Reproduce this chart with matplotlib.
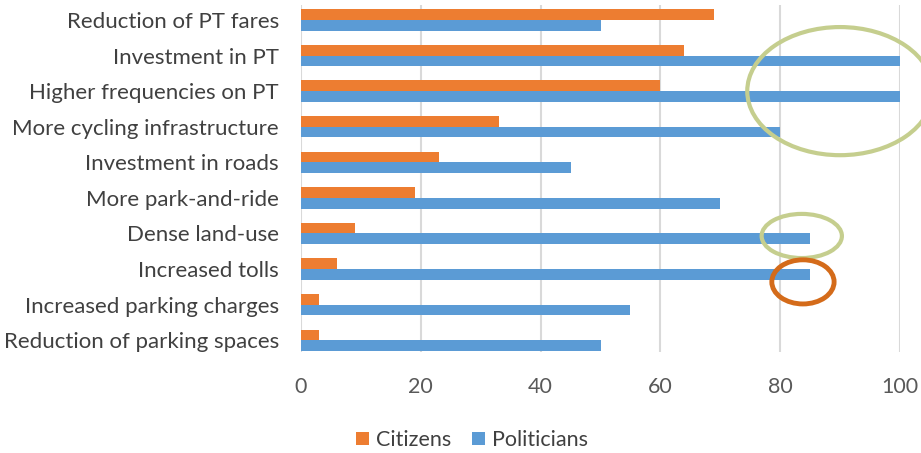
import numpy as np
import matplotlib.pyplot as plt
from matplotlib.patches import Ellipse

measures = ['Reduction of PT fares', 'Investment in PT', 'Higher frequencies on PT',
            'More cycling infrastructure', 'Investment in roads', 'More park-and-ride',
            'Dense land-use', 'Increased tolls', 'Increased parking charges',
            'Reduction of parking spaces']
citizens = [69, 64, 60, 33, 23, 19, 9, 6, 3, 3]
politicians = [50, 100, 100, 80, 45, 70, 85, 85, 55, 50]
ticks = [0, 20, 40, 60, 80, 100]

orange = '#ED7D31'
blue = '#5B9BD5'
txt = '#404040'

plt.rcParams['font.family'] = ['Lato', 'DejaVu Sans']

fig = plt.figure(figsize=(9.21, 4.53), dpi=100)
ax = fig.add_axes([301/921, 1 - 352/453, 599/921, 347/453])

y = np.arange(len(measures))
h = 0.3
ax.barh(y - h/2, citizens, height=h, color=orange, label='Citizens', zorder=3)
ax.barh(y + h/2, politicians, height=h, color=blue, label='Politicians', zorder=3)

ax.set_xlim(0, 100)
ax.set_ylim(9.33, -0.42)
ax.set_yticks(y)
ax.set_yticklabels(measures, fontsize=16, color=txt)
ax.set_xticks(ticks)
ax.set_xticklabels([str(t) for t in ticks], fontsize=15.5, color='#595959')
ax.tick_params(length=0)
ax.tick_params(axis='y', pad=16)
ax.tick_params(axis='x', pad=18)
ax.grid(axis='x', color='#D9D9D9', linewidth=1.5, zorder=0)
for s in ax.spines.values():
    s.set_visible(False)

# highlight rings
ax.add_patch(Ellipse((90, 2.0), 31, 3.6, fill=False, edgecolor='#C5CE8E',
                     linewidth=3, clip_on=False, zorder=4))
ax.add_patch(Ellipse((83.6, 6.07), 13.4, 1.24, fill=False, edgecolor='#C5CE8E',
                     linewidth=3, clip_on=False, zorder=4))
ax.add_patch(Ellipse((83.8, 7.36), 10.4, 1.24, fill=False, edgecolor='#D46B1A',
                     linewidth=3.5, clip_on=False, zorder=4))

leg = fig.legend(loc='center', bbox_to_anchor=(472/921, 1 - 440/453), ncol=2,
                 frameon=False, fontsize=15.5, handlelength=0.6, handleheight=0.6,
                 handletextpad=0.3, columnspacing=1.0)
for t in leg.get_texts():
    t.set_color(txt)

fig.savefig('out.png', dpi=100)
